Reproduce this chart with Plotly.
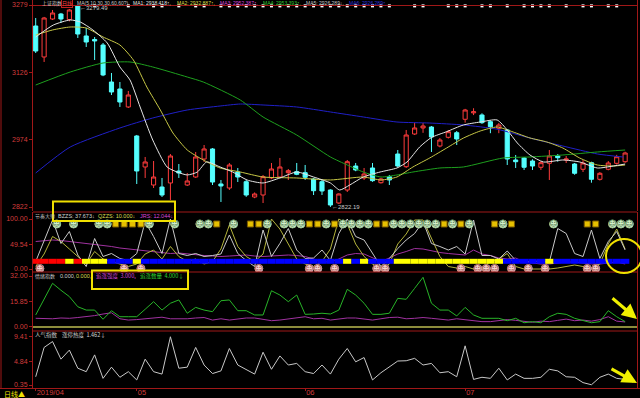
import plotly.graph_objects as go

W, H = 640, 398

# ---------------- data ----------------
opens = [3231.5, 3161.4, 3247.3, 3258.6, 3246.2, 3276.7, 3208.9, 3201.0, 3188.5, 3104.8,
         3089.0, 3048.3, 2982.7, 2912.6, 2871.8, 2867.3, 2876.4, 2903.5, 2871.8, 2889.9,
         2930.6, 2953.3, 2874.1, 2865.0, 2901.2, 2879.3, 2844.7, 2849.2, 2887.7, 2889.9,
         2899.7, 2902.0, 2899.7, 2885.4, 2879.3, 2860.5, 2831.1, 2860.5, 2914.8, 2887.7,
         2910.3, 2877.0, 2890.6, 2941.9, 2913.2, 2987.2, 3000.8, 3003.0, 2960.0, 2979.7,
         2990.1, 3020.5, 3035.0, 3030.2, 3015.0, 3000.1, 2996.3, 2928.4, 2932.9, 2926.1,
         2911.9, 2920.9, 2937.4, 2928.4, 2919.3, 2907.4, 2922.3, 2884.7, 2907.4, 2920.9,
         2924.5]
highs = [3249.6, 3252.0, 3267.7, 3261.0, 3270.0, 3279.49, 3227.0, 3206.6, 3193.0, 3125.2,
         3104.8, 3084.5, 2985.0, 2935.2, 2926.1, 2887.7, 2941.9, 2919.3, 2899.0, 2946.5,
         2962.3, 2955.5, 2883.2, 2921.6, 2910.3, 2883.0, 2855.0, 2894.5, 2921.6, 2933.0,
         2908.0, 2921.6, 2917.1, 2887.7, 2883.2, 2862.0, 2853.0, 2928.4, 2921.6, 2910.3,
         2921.6, 2888.0, 2894.5, 2951.0, 2996.3, 3012.0, 3012.3, 3005.3, 2978.0, 2996.3,
         2994.0, 3044.0, 3045.5, 3034.0, 3018.0, 3012.0, 2998.0, 2939.7, 2935.0, 2930.0,
         2926.0, 2951.0, 2941.9, 2937.4, 2921.6, 2928.4, 2924.5, 2901.0, 2926.0, 2940.0,
         2947.0]
lows = [3170.4, 3150.1, 3245.0, 3238.3, 3242.0, 3204.4, 3184.0, 3154.6, 3118.0, 3075.4,
        3048.3, 3046.0, 2874.1, 2887.7, 2865.0, 2844.7, 2837.9, 2887.7, 2869.6, 2887.7,
        2923.9, 2871.8, 2833.4, 2860.5, 2878.6, 2845.0, 2842.0, 2831.1, 2885.0, 2887.7,
        2883.2, 2894.0, 2883.2, 2849.2, 2849.2, 2822.19, 2829.0, 2856.0, 2903.0, 2883.2,
        2879.0, 2875.0, 2871.8, 2912.6, 2910.3, 2985.0, 2989.8, 2946.5, 2957.0, 2977.0,
        2962.3, 3012.8, 3030.0, 3010.0, 2989.0, 2989.0, 2917.1, 2910.3, 2905.8, 2905.8,
        2905.8, 2883.2, 2924.5, 2921.6, 2895.0, 2901.2, 2877.0, 2882.0, 2905.0, 2918.0,
        2922.0]
closes = [3174.9, 3249.6, 3260.9, 3247.3, 3267.7, 3213.4, 3195.3, 3197.6, 3120.7, 3082.2,
          3059.6, 3075.4, 2903.5, 2923.9, 2889.9, 2849.2, 2937.4, 2899.0, 2880.9, 2935.2,
          2953.3, 2878.6, 2869.6, 2917.1, 2889.9, 2849.2, 2851.5, 2890.6, 2908.0, 2912.6,
          2904.2, 2896.0, 2889.2, 2858.9, 2858.3, 2826.6, 2851.5, 2924.5, 2905.8, 2896.7,
          2881.6, 2885.4, 2883.2, 2914.8, 2984.9, 3000.8, 3005.3, 2980.4, 2973.6, 2992.4,
          2975.9, 3041.5, 3037.5, 3012.8, 3003.7, 3007.6, 2930.6, 2924.5, 2911.9, 2914.8,
          2922.3, 2937.4, 2933.6, 2930.6, 2898.3, 2921.6, 2884.7, 2898.3, 2921.6, 2935.8,
          2944.2]
day = list(range(len(opens)))

ma5_x = [0, 2.1, 4.1, 5.3, 6.8, 8.5, 10, 11.2, 12.4, 13.9, 15.6, 16.8, 18, 19.2, 20.3,
         21.9, 23.4, 25.1, 27, 29, 31, 33, 35, 36.1, 37.3, 38.9, 40.9, 42.9, 44.1, 45.6,
         47, 48.8, 50.8, 52.8, 54.8, 56, 57.2, 58.7, 60.3, 62.6, 64.6, 66.7, 68.6, 70]
ma5_v = [3206.6, 3233.8, 3245.1, 3240.5, 3222.4, 3193.0, 3138.8, 3109.4, 3048.3, 2973.6,
         2912.6, 2901.2, 2894.5, 2901.2, 2923.9, 2912.6, 2901.2, 2883.2, 2876.4, 2887.7,
         2901.2, 2889.9, 2876.4, 2860.5, 2871.8, 2889.9, 2901.2, 2910.3, 2923.9, 2957.8,
         2979.3, 2992.4, 3007.6, 3014.3, 3018.9, 2996.3, 2966.8, 2939.7, 2923.9, 2928.4,
         2923.9, 2910.3, 2914.8, 2919.3]
ma10_x = [0, 2, 4.1, 6, 8, 10, 11.6, 13.2, 14.8, 16.3, 18, 19.9, 21.9, 24.3, 27, 31, 35,
          38.9, 41, 42.9, 44.8, 46.8, 48.8, 50.8, 52.8, 54.8, 56.7, 58.7, 60.7, 62.6,
          64.6, 66.7, 68.6, 70]
ma10_v = [3211.1, 3222.5, 3229.2, 3227.0, 3206.6, 3188.5, 3154.6, 3093.5, 3041.5, 2989.5,
          2951.0, 2928.4, 2910.3, 2901.2, 2889.9, 2887.7, 2883.2, 2889.9, 2883.2, 2889.9,
          2912.6, 2933.0, 2955.5, 2978.0, 2994.0, 3003.0, 2991.7, 2978.2, 2969.1, 2955.5,
          2932.9, 2917.1, 2914.8, 2917.1]
ma30_x = [0, 4.1, 8, 11.2, 13.9, 18, 19.9, 24.3, 27, 31, 35, 37, 38.9, 41, 42.9, 44.8,
          48, 50.8, 55.5, 58.7, 62.6, 66.7, 70]
ma30_v = [3098.0, 3127.4, 3147.8, 3150.1, 3138.8, 3116.1, 3104.8, 3064.1, 3025.7, 2984.9,
          2935.2, 2917.1, 2901.2, 2889.9, 2894.5, 2901.2, 2910.3, 2912.6, 2932.9, 2935.2,
          2939.7, 2946.5, 2951.0]
ma60_x = [0, 4.1, 10, 13.9, 18, 21.9, 24.3, 27, 31, 35, 38.9, 42.9, 46.8, 50.8, 54.8,
          58.7, 62.6, 66.7, 69.8]
ma60_v = [2899.0, 2957.8, 3000.8, 3023.4, 3041.5, 3050.5, 3055.0, 3052.8, 3048.3, 3037.0,
          3025.7, 3014.3, 3012.0, 3007.6, 2998.0, 2978.0, 2960.0, 2942.0, 2935.0]

price_ticks = [3279, 3126, 2974, 2822]
month_idx = [0, 12, 32, 51]
month_labels = ["2019/04", "05", "06", "07"]
top_signal_x = [7, 11, 14, 15, 17, 19, 20, 22, 23, 24, 25, 26, 27, 28, 29, 30, 31, 32,
                33, 34, 35, 36, 37, 38, 39, 40, 41, 42, 45, 46, 49, 50, 51, 53, 54, 56,
                58, 59, 60, 61, 63, 65, 66, 68, 69]

# 节奏大师 panel
bzzs = [15, 55, 98, 51, 75, 28, 5, 61, 25, 31, 21, 17, 31, 95, 65, 31, 100, 31, 27, 31,
        25, 27, 30, 68, 31, 17, 5, 78, 25, 51, 81, 38, 21, 22, 38, 17, 71, 100, 65, 58,
        31, 5, 21, 41, 58, 71, 95, 51, 45, 38, 45, 30, 98, 27, 27, 20, 36, 17, 14, 16,
        15, 14, 81, 71, 31, 25, 78, 21, 55, 75, 38]
qzzs = [5, 30, 65, 55, 40, 25, 10, 35, 20, 15, 10, 5, 10, 30, 38, 20, 45, 25, 15, 20,
        10, 15, 40, 88, 45, 25, 15, 30, 100, 80, 50, 20, 10, 5, 15, 40, 100, 90, 50, 25,
        10, 0, 10, 50, 70, 98, 98, 60, 25, 5, 2, 5, 0, 2, 15, 20, 31, 5, 0, 0,
        0, 0, 2, 5, 8, 5, 3, 10, 50, 80, 40]
jrs = [55, 57, 58, 57, 55, 54, 52, 50, 47, 45, 42, 40, 38, 36, 34, 32, 31, 32, 30, 28,
       27, 26, 25, 26, 27, 28, 26, 25, 26, 27, 28, 27, 25, 20, 15, 14, 20, 28, 31, 30,
       22, 15, 22, 30, 35, 41, 40, 36, 33, 31, 29, 28, 38, 30, 27, 22, 20, 22, 14, 12,
       10, 10, 12, 14, 14, 12, 10, 10, 12, 14, 10]
trend_state = (["R"] * 4 + ["Y"] + ["R"] + ["Y"] * 3 + ["B"] * 3 + ["Y"] + ["B"] * 24 +
               ["Y"] + ["B"] + ["Y"] + ["B"] * 3 + ["Y"] * 13 + ["B"] * 5 + ["Y"] + ["B"] * 9)
smile_top_x = [2.5, 4.5, 7.5, 8.5, 13.5, 16.5, 19.5, 20.5, 23.5, 27.5, 29.5, 30.5, 31.5,
               34.5, 36.5, 37.5, 38.5, 39.5, 42.5, 43.5, 44.5, 45.5, 46.5, 47.5, 49.5,
               51.5, 55.5, 61.5, 68.5, 69.5, 70.5]
square_top_x = [9.5, 10.5, 11.5, 12.5, 21.5, 25.5, 26.5, 32.5, 33.5, 35.5, 40.5, 41.5,
                48.5, 50.5, 54.5, 56.5, 65.5, 66.5]
smile_bot_x = [0.5, 10.5, 12.5, 26.5, 32.5, 33.5, 35.5, 40.5, 41.5, 50.5, 52.5, 53.5,
               54.5, 56.5, 58.5, 60.5, 65.5, 66.5]

# 情绪指数 panel
mood_green = [7.4, 17, 27.4, 23, 19, 12.6, 10.5, 10.5, 4.7, 10.1, 6.3, 6.3, 6.3, 11, 15.8,
              10.5, 14.8, 16.9, 8.5, 12.2, 10.5, 9.5, 16.4, 16.9, 10.1, 10.1, 7.4, 7.4,
              22.7, 20, 15.8, 20, 7.8, 8, 8.5, 8, 10.5, 23.6, 20, 14.8, 7.8, 7.8, 8.5,
              17.9, 17.3, 24.2, 31.2, 14.8, 10.5, 10.5, 6.8, 12.2, 7.4, 5.3, 5.3, 5.3,
              3.8, 5.3, 2.5, 3.2, 2.5, 6.3, 8.5, 7.8, 5.3, 3.8, 2.5, 3.2, 10.1, 6.3, 3.2]
mood_purple = [5.3, 5.0, 5.0, 5.5, 5.3, 5.8, 6.3, 7.0, 8.0, 8.8, 5.0, 4.2, 4.5, 5.0, 5.5,
               6.0, 5.0, 5.0, 5.0, 5.5, 5.8, 4.2, 5.0, 4.2, 5.0, 5.5, 5.5, 4.8, 3.8, 4.2,
               5.0, 5.8, 6.3, 5.0, 5.3, 4.2, 4.8, 5.5, 5.5, 4.8, 4.2, 5.0, 5.8, 6.0, 5.0,
               5.3, 5.8, 5.3, 4.8, 4.2, 5.0, 4.5, 3.8, 3.2, 3.2, 3.8, 4.5, 4.0, 3.2, 2.8,
               3.5, 3.2, 4.0, 4.8, 3.8, 4.2, 3.5, 4.5, 6.3, 3.5, 3.0]

# 人气指数 panel
popularity = [1.9, 7.4, 8.5, 5.2, 6.9, 3.5, 2.85, 6.0, 1.6, 3.7, 1.8, 2.85, 1.3, 5.2, 2.85,
              2.4, 9.4, 3.5, 3.7, 7.4, 4.1, 2.5, 3.0, 7.2, 4.1, 3.2, 2.4, 6.5, 3.3, 5.8,
              4.1, 4.4, 2.85, 2.5, 4.1, 2.4, 5.2, 7.2, 4.7, 5.5, 1.3, 2.65, 3.7, 4.85, 4.9,
              5.35, 4.1, 4.4, 2.65, 2.85, 1.9, 7.7, 1.4, 1.8, 1.6, 3.5, 1.3, 2.4, 1.6, 1.6,
              1.8, 3.3, 3.0, 1.9, 1.8, 0.8, 0.4, 1.8, 2.4, 1.6, 1.4]

# ---------------- styling ----------------
RED = "#d23c3c"
LINE_RED = "#a01818"
CYAN = "#54ffff"
FONT = "Liberation Sans, Noto Sans CJK SC, sans-serif"
CJK = "Noto Sans CJK SC, sans-serif"


def px(x):
    return x / W


def py(y):
    return 1 - y / H


fig = go.Figure()

# ---- main panel ----
fig.add_trace(go.Candlestick(
    x=day, open=opens, high=highs, low=lows, close=closes,
    increasing=dict(line=dict(color="#ff3c3c", width=1), fillcolor="#000000"),
    decreasing=dict(line=dict(color=CYAN, width=1), fillcolor=CYAN),
    whiskerwidth=0, xaxis="x", yaxis="y", showlegend=False, hoverinfo="skip"))
for xs, vs, col in [(ma60_x, ma60_v, "#2020c8"), (ma30_x, ma30_v, "#1ea01e"),
                    (ma10_x, ma10_v, "#c8c846"), (ma5_x, ma5_v, "#e6e6e6")]:
    fig.add_trace(go.Scatter(x=xs, y=vs, mode="lines", yaxis="y",
                             line=dict(color=col, width=1, shape="spline", smoothing=0.6),
                             showlegend=False, hoverinfo="skip"))
fig.add_trace(go.Scatter(x=top_signal_x, y=[3277] * len(top_signal_x), mode="markers",
                         yaxis="y", marker=dict(symbol="square", size=3, color="#ffffff"),
                         showlegend=False, hoverinfo="skip"))

# ---- 节奏大师 ----
for vals, col in [(jrs, "#a032a0"), (qzzs, "#b4b43c"), (bzzs, "#c8c8c8")]:
    fig.add_trace(go.Scatter(x=day, y=vals, mode="lines", yaxis="y2",
                             line=dict(color=col, width=1), showlegend=False, hoverinfo="skip"))
state_colors = {"R": "#ff0000", "Y": "#ffff00", "B": "#0000ff"}
for code, col in state_colors.items():
    xs, ys = [], []
    for i, s in enumerate(trend_state):
        if s == code:
            xs += [i - 0.5, i + 0.5, None]
            ys += [15.4, 15.4, None]
    fig.add_trace(go.Scatter(x=xs, y=ys, mode="lines", yaxis="y2",
                             line=dict(color=col, width=5), showlegend=False, hoverinfo="skip"))
fig.add_trace(go.Scatter(x=smile_top_x, y=[90] * len(smile_top_x), mode="markers+text",
                         yaxis="y2", text=["☺"] * len(smile_top_x), textposition="middle center",
                         textfont=dict(size=8, color="#305a30", family="DejaVu Sans"),
                         marker=dict(symbol="circle", size=8, color="#d2f0c8",
                                     line=dict(color="#a0c896", width=1)),
                         showlegend=False, hoverinfo="skip"))
fig.add_trace(go.Scatter(x=square_top_x, y=[90] * len(square_top_x), mode="markers",
                         yaxis="y2",
                         marker=dict(symbol="square", size=6, color="#e6c000",
                                     line=dict(color="#7a5a00", width=1)),
                         showlegend=False, hoverinfo="skip"))
fig.add_trace(go.Scatter(x=smile_bot_x, y=[1] * len(smile_bot_x), mode="markers+text",
                         yaxis="y2", text=["☺"] * len(smile_bot_x), textposition="middle center",
                         textfont=dict(size=8, color="#8a3030", family="DejaVu Sans"),
                         marker=dict(symbol="circle", size=8, color="#f5d2cd",
                                     line=dict(color="#d29a96", width=1)),
                         showlegend=False, hoverinfo="skip"))

# ---- 情绪指数 ----
fig.add_trace(go.Scatter(x=day, y=mood_purple, mode="lines", yaxis="y3",
                         line=dict(color="#a032a0", width=1), showlegend=False, hoverinfo="skip"))
fig.add_trace(go.Scatter(x=day, y=mood_green, mode="lines", yaxis="y3",
                         line=dict(color="#28b428", width=1), showlegend=False, hoverinfo="skip"))

# ---- 人气指数 ----
fig.add_trace(go.Scatter(x=day, y=popularity, mode="lines", yaxis="y4",
                         line=dict(color="#c8c8c8", width=1), showlegend=False, hoverinfo="skip"))


def yax(dom_top, dom_bot, rng, tickvals, ticktext, zero=False):
    return dict(domain=[py(dom_bot), py(dom_top)], range=rng, anchor="x",
                tickvals=tickvals, ticktext=ticktext, ticks="outside", ticklen=3,
                tickcolor=LINE_RED, tickfont=dict(size=7, color=RED, family=FONT),
                showline=True, linecolor=LINE_RED, linewidth=1, mirror=True,
                showgrid=False, zeroline=zero, zerolinecolor="#8c8c3c", zerolinewidth=1.5,
                automargin=False, fixedrange=True)


fig.update_layout(
    width=W, height=H, margin=dict(l=0, r=0, t=0, b=0), autosize=False,
    paper_bgcolor="#000000", plot_bgcolor="#000000", template="none",
    showlegend=False, hovermode=False, font=dict(family=FONT),
    xaxis=dict(domain=[px(33), px(637)], range=[-0.32, 71.41], anchor="y4",
               tickvals=month_idx, ticktext=month_labels, ticks="outside", ticklen=2,
               tickcolor=LINE_RED, ticklabelposition="outside right", ticklabelstandoff=-3,
               tickfont=dict(size=7.5, color=RED, family=FONT),
               showline=True, linecolor=LINE_RED, showgrid=False, zeroline=False,
               rangeslider=dict(visible=False), automargin=False, fixedrange=True),
    yaxis=yax(0, 211, [2813.0, 3290.3], price_ticks, [str(v) for v in price_ticks]),
    yaxis2=yax(212, 272, [-6, 114], [100, 49.54, 0], ["100.00", "49.54", "0.00"]),
    yaxis3=yax(272, 331, [-2.71, 34.53], [32, 15.85, 0], ["32.00", "15.85", "0.00"], zero=True),
    yaxis4=yax(331, 388, [-0.21, 10.48], [9.41, 4.84, 0.35], ["9.41", "4.84", "0.35"]),
)

shapes = []
for yy in [5.5, 212, 272, 331]:
    shapes.append(dict(type="line", xref="paper", yref="paper", x0=px(33), x1=px(637),
                       y0=py(yy), y1=py(yy), line=dict(color=LINE_RED, width=1)))
shapes.append(dict(type="line", xref="paper", yref="paper", x0=0, x1=1,
                   y0=py(388.5), y1=py(388.5), line=dict(color=LINE_RED, width=1)))
shapes.append(dict(type="line", xref="paper", yref="paper", x0=px(1), x1=px(1),
                   y0=py(0), y1=py(388.5), line=dict(color=LINE_RED, width=1)))
shapes.append(dict(type="rect", xref="paper", yref="paper", x0=px(53), x1=px(175),
                   y0=py(221), y1=py(201.5), line=dict(color="#f0e000", width=2)))
shapes.append(dict(type="rect", xref="paper", yref="paper", x0=px(92), x1=px(188),
                   y0=py(289), y1=py(270.5), line=dict(color="#f0e000", width=2)))
shapes.append(dict(type="circle", xref="paper", yref="paper", x0=px(606), x1=px(642),
                   y0=py(273), y1=py(239), line=dict(color="#f0e000", width=2)))
fig.update_layout(shapes=shapes)

ann = []


def label(x, y, text, color, size=5, family=FONT, **kw):
    ann.append(dict(x=px(x), y=py(y), xref="paper", yref="paper", text=text,
                    showarrow=False, xanchor="left", yanchor="middle",
                    font=dict(size=size, color=color, family=family), **kw))


# main header
label(40, 3.5, "上证指数", "#c8c8c8", family=CJK)
label(61, 3.5, "日线", "#ff4040", family=CJK, bordercolor="#c02020", borderpad=0)
label(75, 3.5, "MA(5,10,30,30,60,60?)", "#c8c8c8")
label(131, 3.5, "MA1: 2938.418↑,", "#e6e6e6")
label(175, 3.5, "MA2: 2932.887↑,", "#dcdc46")
label(218, 3.5, "MA3: 2952.387↑,", "#dc46dc")
label(261, 3.5, "MA4: 2953.393↑,", "#32c832")
label(304, 3.5, "MA5: 2926.289↓,", "#c8c8c8")
label(347, 3.5, "MA6: 2926.289↑,", "#3232dc")
# 节奏大师 header
label(33, 215.5, "节奏大师", "#c8c8c8", family=CJK)
label(56, 215.5, "BZZS: 37.673↓", "#d2d2d2", size=5.5)
label(96, 215.5, "QZZS: 10.000↓", "#dcdc50", size=5.5)
label(138, 215.5, "JRS: 12.044↓", "#dc46dc", size=5.5)
# 情绪指数 header
label(33, 275.5, "情绪指数", "#c8c8c8", family=CJK)
label(58, 275.5, "0.000,", "#d2d2d2", size=5.5)
label(74, 275.5, "0.000,", "#dcdc50", size=5.5)
label(94, 276, "追涨强度  3.000,", "#dc46dc", size=5.5, family=CJK)
label(138, 276, "追涨数量  4.000↓", "#32d232", size=5.5, family=CJK)
# 人气指数 header
label(33, 335, "人气指数", "#c8c8c8", size=5.5, family=CJK)
label(60, 335, "涨停热度  1.462↓", "#d2d2d2", size=5.5, family=CJK)
# bottom-left
label(2, 394, "日线▲", "#f0e000", size=7, family=CJK)

# extreme price notes
ann.append(dict(x=35, y=2822.19, xref="x", yref="y", text="←2822.19", showarrow=False,
                xanchor="left", yanchor="middle", font=dict(size=6, color="#c8c8c8")))
ann.append(dict(x=5, y=3279.49, xref="x", yref="y", text="←3279.49", showarrow=False,
                xanchor="left", yanchor="top", yshift=2, font=dict(size=6, color="#c8c8c8")))

# yellow arrows
for (x0, y0, x1, y1) in [(611, 297, 637, 319), (610, 368, 637, 383)]:
    ann.append(dict(x=px(x1), y=py(y1), xref="paper", yref="paper", ax=x0 - x1, ay=y0 - y1,
                    axref="pixel", ayref="pixel", text="", showarrow=True, arrowhead=2,
                    arrowsize=1, arrowwidth=3, arrowcolor="#f0f000"))
fig.update_layout(annotations=ann)

fig.write_html("out.html")
